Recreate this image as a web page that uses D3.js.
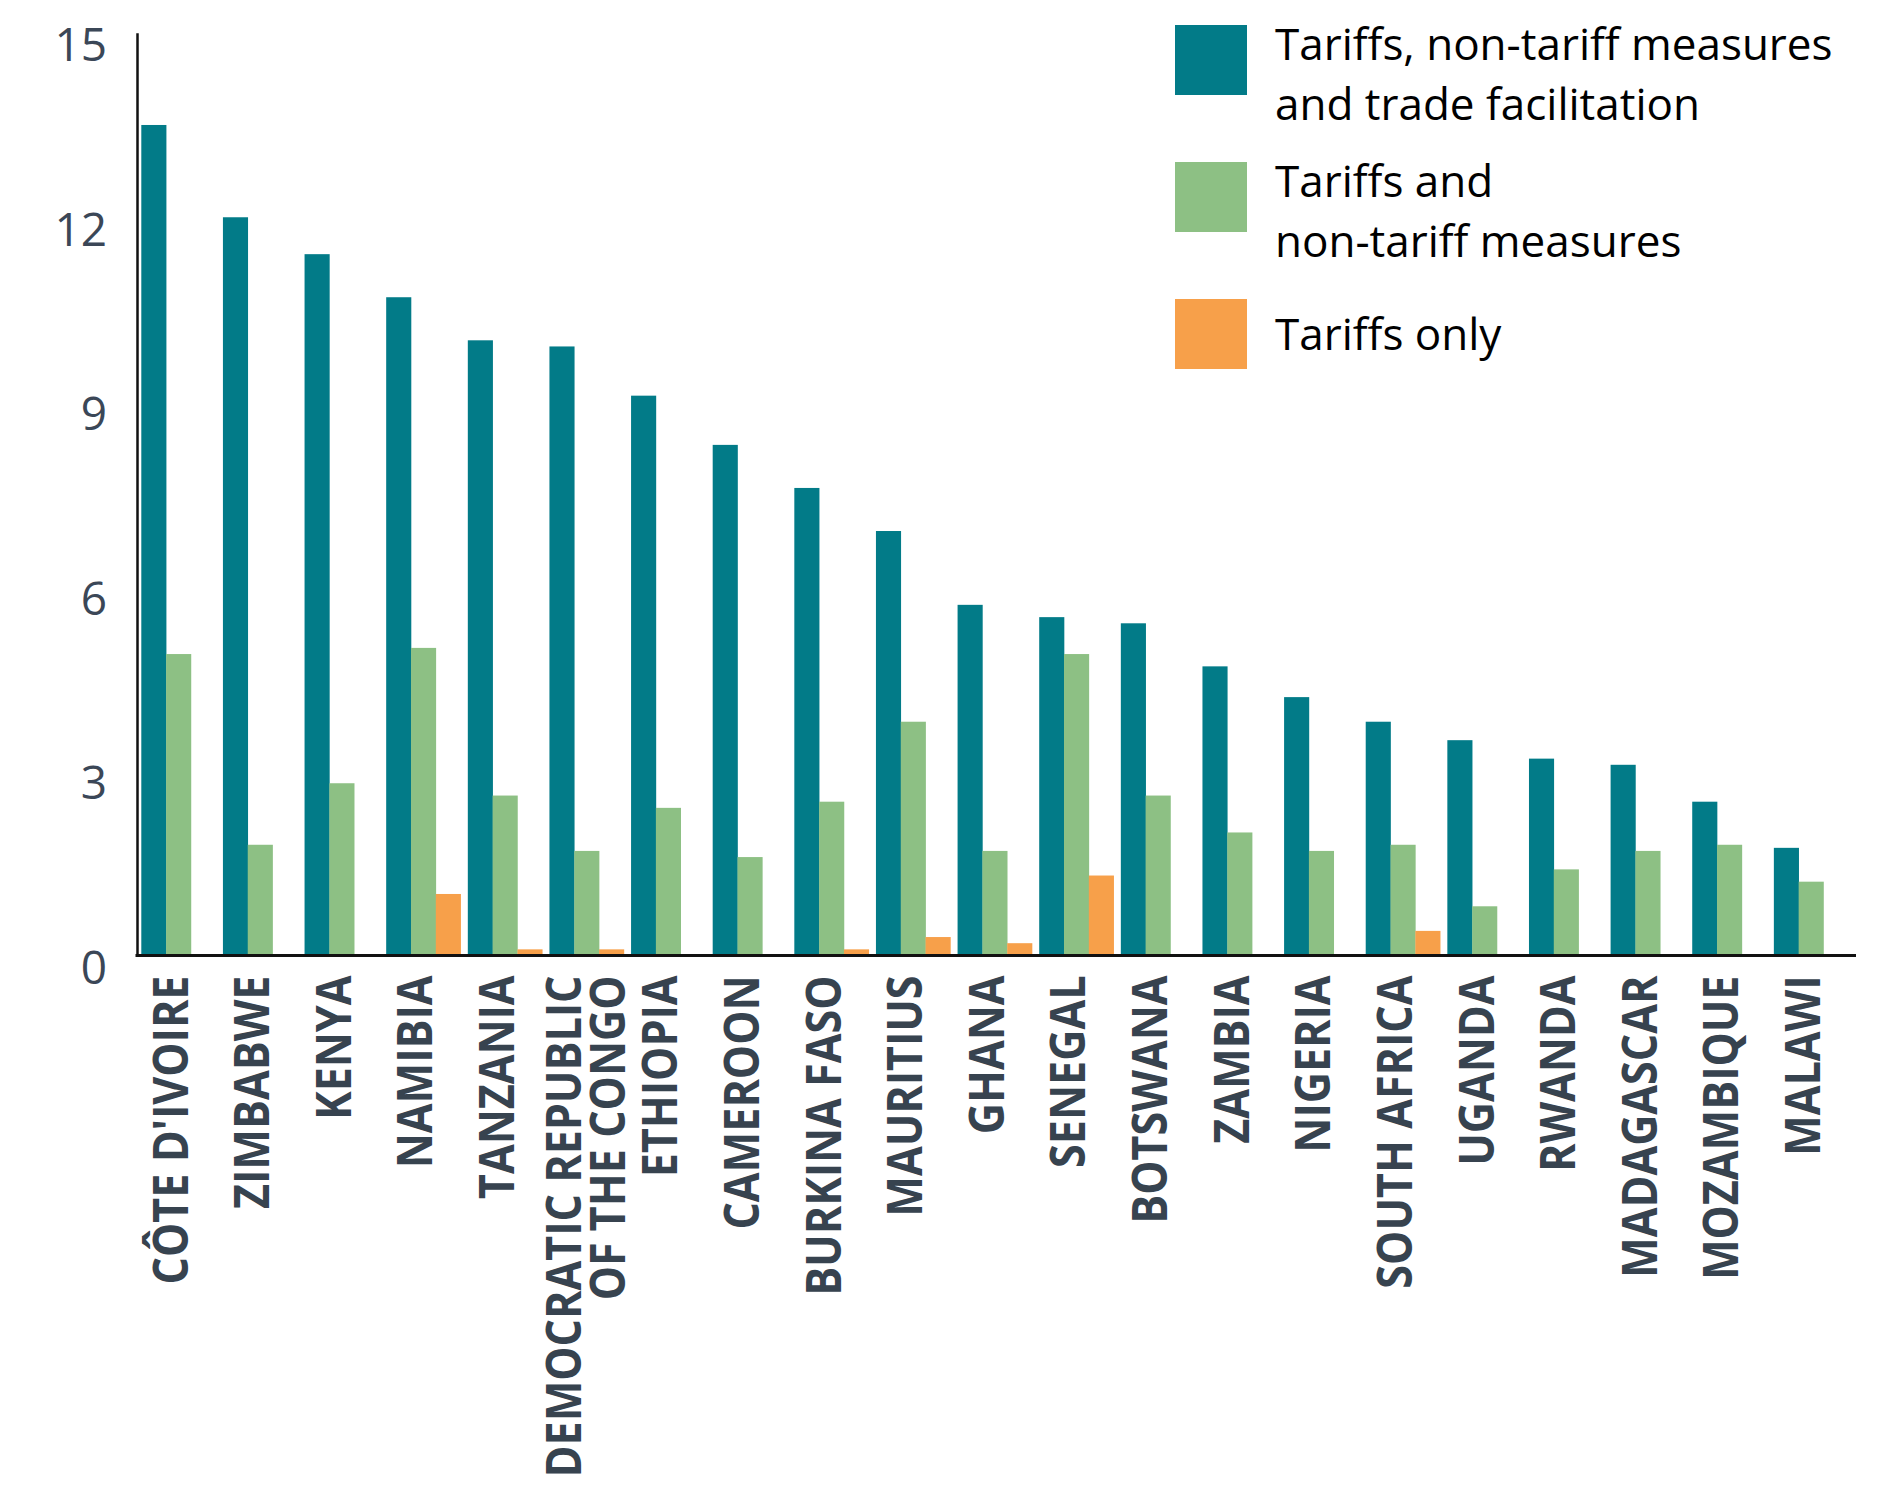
<!DOCTYPE html>
<html><head><meta charset="utf-8">
<script src="https://cdn.jsdelivr.net/npm/d3@7"></script>
<style>body{margin:0;background:#fff}svg{display:block}</style>
</head><body>
<svg id="chart" width="1889" height="1486"></svg>
<script>
// ---- data ----
const countries = ["CÔTE D'IVOIRE","ZIMBABWE","KENYA","NAMIBIA","TANZANIA","DEMOCRATIC REPUBLIC\nOF THE CONGO","ETHIOPIA","CAMEROON","BURKINA FASO","MAURITIUS","GHANA","SENEGAL","BOTSWANA","ZAMBIA","NIGERIA","SOUTH AFRICA","UGANDA","RWANDA","MADAGASCAR","MOZAMBIQUE","MALAWI"];
const tariffsNtmTf = [13.5,12.0,11.4,10.7,10.0,9.9,9.1,8.3,7.6,6.9,5.7,5.5,5.4,4.7,4.2,3.8,3.5,3.2,3.1,2.5,1.75];
const tariffsNtm   = [4.9,1.8,2.8,5.0,2.6,1.7,2.4,1.6,2.5,3.8,1.7,4.9,2.6,2.0,1.7,1.8,0.8,1.4,1.7,1.8,1.2];
const tariffsOnly  = [0,0,0,1.0,0.1,0.1,0,0,0.1,0.3,0.2,1.3,0,0,0,0.4,0,0,0,0,0];
const seriesKeys = ["tf","ntm","tar"];
const seriesColors = ["#027b88","#8dc084","#f7a04a"];
const legendLabels = [["Tariffs, non-tariff measures","and trade facilitation"],["Tariffs and","non-tariff measures"],["Tariffs only"]];
const yTicks = [0,3,6,9,12,15];

// ---- build ----
const rows = countries.map((c,i)=>({country:c, tf:tariffsNtmTf[i], ntm:tariffsNtm[i], tar:tariffsOnly[i]}));
const svg = d3.select("#chart");

const y = d3.scaleLinear().domain([0,15]).range([955.5,32.7]);
const x0 = d3.scaleBand().domain(countries).range([141.3,1848.3]).paddingInner(0.088).paddingOuter(0);
const x1 = d3.scaleBand().domain(seriesKeys).range([0,x0.bandwidth()]).padding(0);
const color = d3.scaleOrdinal().domain(seriesKeys).range(seriesColors);

// bars
const groups = svg.append("g").selectAll("g").data(rows).join("g")
  .attr("transform", d=>`translate(${x0(d.country)},0)`);
groups.selectAll("rect").data(d=>seriesKeys.map(k=>({key:k, value:d[k]})).filter(e=>e.value>0))
  .join("rect")
  .attr("x", d=>x1(d.key))
  .attr("width", x1.bandwidth()+0.3)
  .attr("y", d=>y(d.value))
  .attr("height", d=>y(0)-y(d.value))
  .attr("fill", d=>color(d.key));

// y axis
const yAxis = svg.append("g").attr("transform","translate(137,0)")
  .call(d3.axisLeft(y).tickValues(yTicks).tickSize(0).tickSizeOuter(0).tickPadding(30));
yAxis.select(".domain").attr("stroke","#111").attr("stroke-width",2.5);
yAxis.selectAll("text")
  .attr("dy","28")
  .attr("font-family","'Open Sans', 'Noto Sans', sans-serif")
  .attr("font-size",46)
  .attr("fill","#3b4757");

// x axis (baseline + rotated labels)
const xAxis = svg.append("g").attr("transform",`translate(0,${y(0)})`)
  .call(d3.axisBottom(x0).tickSize(0).tickFormat(""));
xAxis.select(".domain").remove();
xAxis.append("line").attr("x1",135.5).attr("x2",1856).attr("y1",0).attr("y2",0)
  .attr("stroke","#111").attr("stroke-width",3);
xAxis.selectAll(".tick").each(function(d){
  const lines = d.split("\n");
  const n = lines.length;
  const g = d3.select(this);
  lines.forEach((ln,j)=>{
    const off = 9 + (j-(n-1)/2)*44.6 + (n-1)*7.3;
    g.append("text")
      .attr("transform",`translate(${off},20) rotate(-90) scale(0.88,1)`)
      .attr("text-anchor","end")
      .attr("font-family","'Open Sans', 'Noto Sans', sans-serif")
      .attr("font-weight",700)
      .attr("font-size",49)
      .attr("fill","#37434f")
      .text(ln);
  });
});

// legend
const legend = svg.append("g");
legendLabels.forEach((lab,i)=>{
  const sy = 25 + i*137;
  legend.append("rect").attr("x",1175).attr("y",sy).attr("width",72).attr("height",70).attr("fill",seriesColors[i]);
  lab.forEach((t,j)=>{
    legend.append("text")
      .attr("x",1275)
      .attr("y", lab.length===1 ? sy+51 : sy+35+60*j)
      .attr("font-family","'Open Sans', 'Noto Sans', sans-serif")
      .attr("font-size",44)
      .attr("fill","#000")
      .text(t);
  });
});
</script>
</body></html>
